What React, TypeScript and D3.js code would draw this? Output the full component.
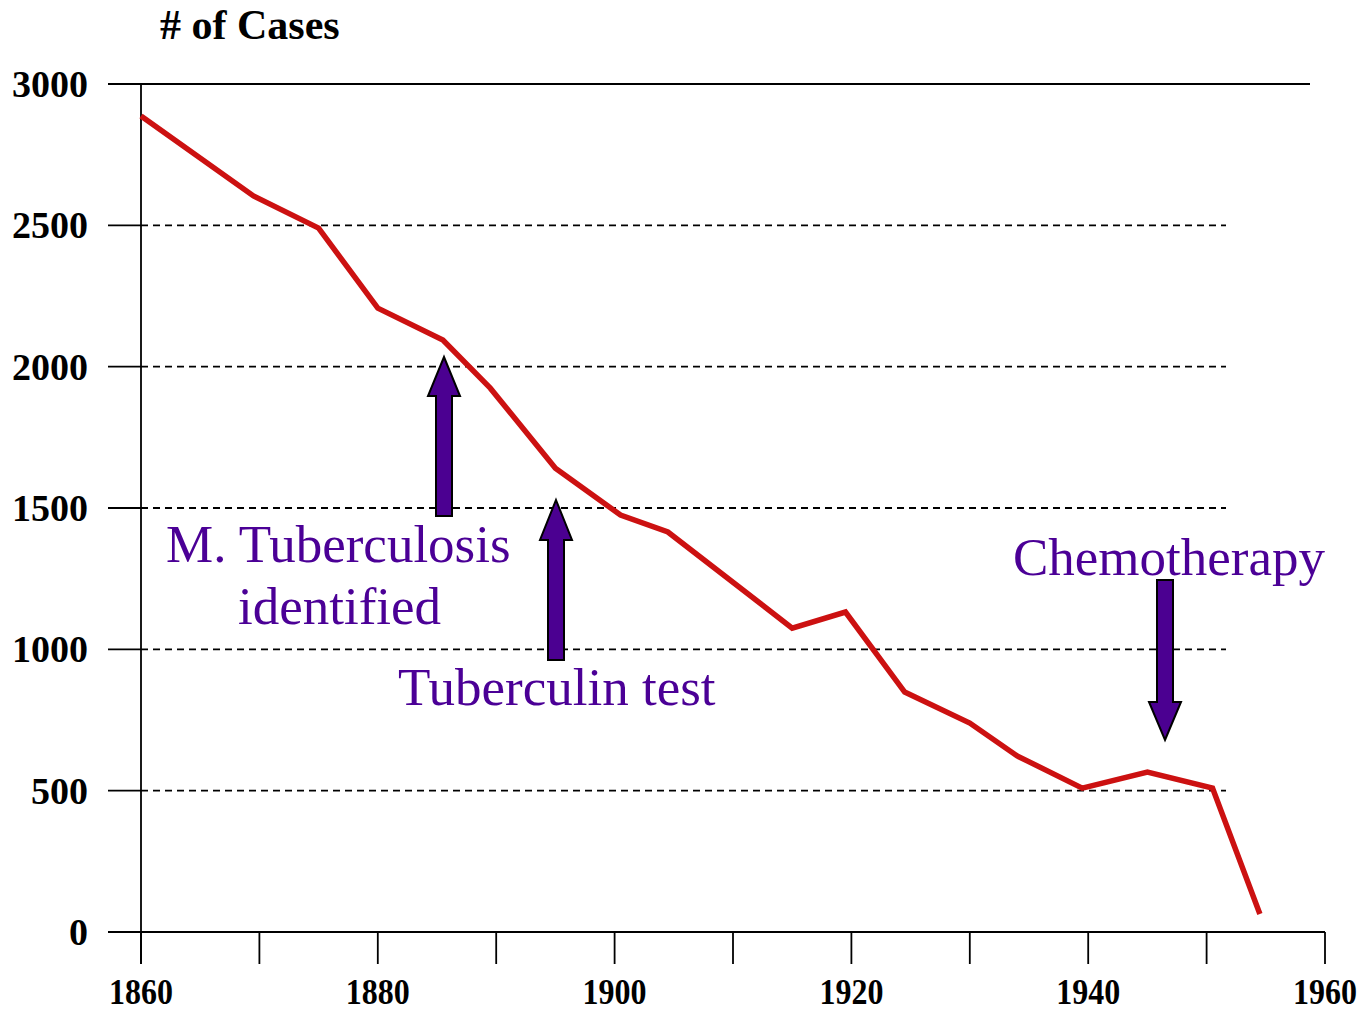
import React from "react";
import * as d3 from "d3";

const years = [1860, 1869.5, 1875, 1880, 1885.5, 1889.5, 1895, 1900.5, 1904.5, 1915, 1919.5, 1924.5, 1930, 1934, 1939.5, 1945, 1950.5, 1954.5];
const cases = [2887, 2604, 2490, 2207, 2094, 1924, 1641, 1475, 1415, 1075, 1132, 849, 739, 623, 509, 566, 509, 64];
const yTicks = [0, 500, 1000, 1500, 2000, 2500, 3000];
const xMinor = [1860, 1870, 1880, 1890, 1900, 1910, 1920, 1930, 1940, 1950, 1960];
const xLabels = [1860, 1880, 1900, 1920, 1940, 1960];

const W = 1371, H = 1010;
const x = d3.scaleLinear().domain([1860, 1960]).range([141, 1325]);
const y = d3.scaleLinear().domain([0, 3000]).range([932, 84]);

const PURPLE = "#4B0096";
const ARROW = "#4B0091";

function arrowPath(cx: number, tipY: number, headBaseY: number, endY: number, headHalf = 16, shaftHalf = 8) {
  return `M${cx},${tipY} L${cx + headHalf},${headBaseY} L${cx + shaftHalf},${headBaseY} L${cx + shaftHalf},${endY} L${cx - shaftHalf},${endY} L${cx - shaftHalf},${headBaseY} L${cx - headHalf},${headBaseY} Z`;
}

export default function App() {
  const line = d3.line<number>().x((_, i) => x(years[i])).y((d) => y(d));
  const serif = "'Liberation Serif', 'Times New Roman', serif";
  return (
    <svg width={W} height={H} style={{ position: "absolute", left: 0, top: 0, background: "#fff" }} fontFamily={serif}>
      <rect width={W} height={H} fill="#fff" />
      <text x={160} y={39} fontSize={42} fontWeight="bold">
        # of Cases
      </text>
      {/* gridlines */}
      {yTicks.filter((t) => t > 0 && t < 3000).map((t) => (
        <line key={t} x1={141} x2={1226} y1={y(t)} y2={y(t)} stroke="#000" strokeWidth={1.8} strokeDasharray="7,5" />
      ))}
      <line x1={108} x2={1310} y1={y(3000)} y2={y(3000)} stroke="#000" strokeWidth={1.8} />
      {/* y ticks */}
      {yTicks.map((t) => (
        <g key={t}>
          <line x1={108} x2={141} y1={y(t)} y2={y(t)} stroke="#000" strokeWidth={1.8} />
          <text x={88} y={y(t) + 13} fontSize={38} fontWeight="bold" textAnchor="end">
            {t}
          </text>
        </g>
      ))}
      {/* axes */}
      <line x1={141} x2={141} y1={y(3000)} y2={964} stroke="#000" strokeWidth={1.8} />
      <line x1={108} x2={x(1960)} y1={y(0)} y2={y(0)} stroke="#000" strokeWidth={1.8} />
      {xMinor.map((t) => (
        <line key={t} x1={x(t)} x2={x(t)} y1={y(0)} y2={964} stroke="#000" strokeWidth={1.8} />
      ))}
      {xLabels.map((t) => (
        <text
          key={t}
          transform={`translate(${x(t)},1004) scale(1,1.15)`}
          fontSize={32}
          fontWeight="bold"
          textAnchor="middle"
        >
          {t}
        </text>
      ))}
      <path d={line(cases) || ""} fill="none" stroke="#CC1111" strokeWidth={5.5} strokeLinejoin="miter" />
      {/* arrows */}
      <path d={arrowPath(444, 357, 396, 516)} fill={ARROW} stroke="#000" strokeWidth={2} />
      <path d={arrowPath(556, 500, 540, 660)} fill={ARROW} stroke="#000" strokeWidth={2} />
      <path d={arrowPath(1165, 740, 702, 580)} fill={ARROW} stroke="#000" strokeWidth={2} />
      {/* annotations */}
      <text x={166} y={562} fontSize={53} fill={PURPLE}>M. Tuberculosis</text>
      <text x={238} y={624} fontSize={53} fill={PURPLE}>identified</text>
      <text x={398} y={705} fontSize={53} fill={PURPLE}>Tuberculin test</text>
      <text x={1013} y={575} fontSize={53} fill={PURPLE}>Chemotherapy</text>
    </svg>
  );
}
